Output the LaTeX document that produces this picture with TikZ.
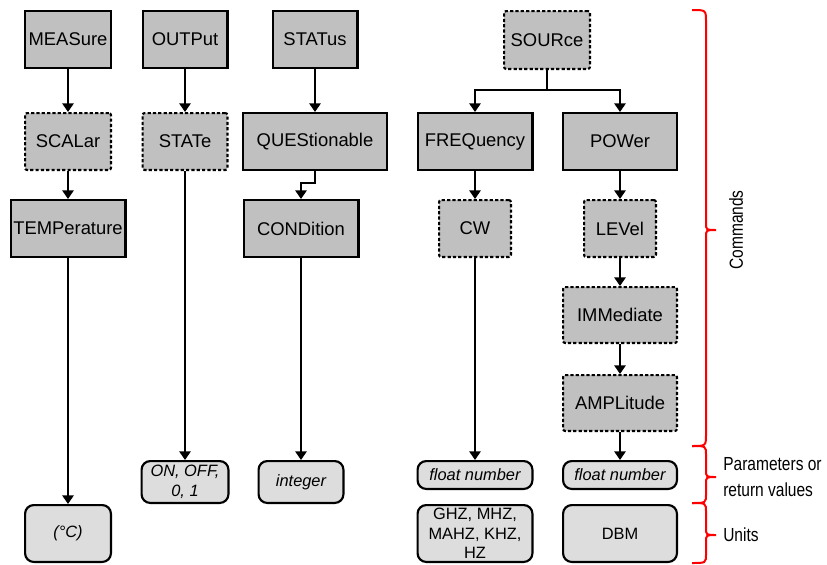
\documentclass[tikz,border=0pt]{standalone}
\usepackage{fontspec}
\setmainfont{Liberation Sans}
\newfontfamily\narrowfont[FakeStretch=0.82]{Liberation Sans}
\usetikzlibrary{arrows.meta}
\definecolor{cmdgray}{HTML}{C0C0C0}
\definecolor{pargray}{HTML}{DDDDDD}
\newcommand\redbrace[4]{%
  \draw[bracestyle] (692,#1) .. controls (706,#1) .. (706,{#1+#4})
    -- (706,{#3-7}) .. controls (706,#3) .. (716,#3)
    .. controls (706,#3) .. (706,{#3+7})
    -- (706,{#2-#4}) .. controls (706,#2) .. (692,#2);}
\begin{document}
\begin{tikzpicture}[x=0.75pt,y=-0.75pt,
  sz/.style 2 args={minimum width={#1*0.75pt-1.6pt}, minimum height={#2*0.75pt-1.6pt}},
  cmd/.style={draw, line width=1.6pt, fill=cmdgray, inner sep=0pt, font=\fontsize{13.8}{16}\selectfont},
  opt/.style={cmd, dash pattern=on 2.4pt off 1.6pt, rounded corners=1.5pt},
  par/.style={draw, line width=1.6pt, fill=pargray, rounded corners=6.5pt, inner sep=0pt, align=center, font=\fontsize{12.3}{15}\selectfont\itshape},
  unit/.style={par, font=\fontsize{12.3}{14.6}\selectfont},
  arr/.style={line width=1.4pt, -{Triangle[length=6.5pt,width=8.5pt]}},
  bracestyle/.style={draw=red, line width=1.5pt},
  lbl/.style={font=\narrowfont\fontsize{14.2}{20}\selectfont, align=left, inner sep=0pt}
]
\useasboundingbox (0,0) rectangle (827,564);
% column 1
\node[cmd, sz={88}{59}] (meas) at (68,39.5) {MEASure};
\node[opt, sz={88}{59}] (scal) at (68,141.5) {SCALar};
\node[cmd, sz={117}{59}] (temp) at (68,228.5) {TEMPerature};
\node[par, sz={88}{59}] (degc) at (68,533.5) {(°C)};
% column 2
\node[cmd, sz={87}{59}] (outp) at (185,39.5) {OUTPut};
\node[opt, sz={87}{59}] (state) at (185,141.5) {STATe};
\node[par, sz={89}{44}] (onoff) at (185,482) {ON, OFF,\\0, 1};
% column 3
\node[cmd, sz={87}{59}] (stat) at (315,39.5) {STATus};
\node[cmd, sz={146}{59}] (ques) at (315,141.5) {QUEStionable};
\node[cmd, sz={117}{59}] (cond) at (301,228.5) {CONDition};
\node[par, sz={87}{44}] (int) at (301,482) {integer};
% source tree
\node[opt, sz={88}{60}] (sour) at (547,40) {SOURce};
\node[cmd, sz={117}{59}] (freq) at (475,141.5) {FREQuency};
\node[cmd, sz={116}{59}] (pow) at (620,141.5) {POWer};
\node[opt, sz={74}{59}] (cw) at (475,228.5) {CW};
\node[opt, sz={74}{59}] (lev) at (620,228.5) {LEVel};
\node[opt, sz={116}{58}] (imm) at (620,315) {IMMediate};
\node[opt, sz={116}{58}] (amp) at (620,403) {AMPLitude};
\node[par, sz={117}{30}] (fl1) at (475,475) {float number};
\node[par, sz={116}{30}] (fl2) at (620,475) {float number};
\node[unit, sz={117}{59}] (u1) at (475,533.5) {GHZ, MHZ,\\MAHZ, KHZ,\\HZ};
\node[unit, sz={116}{59}] (u2) at (620,533.5) {DBM};
% connectors
\draw[arr] (meas) -- (scal);
\draw[arr] (scal) -- (temp);
\draw[arr] (temp) -- (degc);
\draw[arr] (outp) -- (state);
\draw[arr] (state) -- (onoff);
\draw[arr] (stat) -- (ques);
\draw[arr] (ques.south) -- ++(0,12) -| (cond.north);
\draw[arr] (cond) -- (int);
\coordinate (br) at (547,90);
\draw[line width=1.4pt] (sour) -- (br);
\draw[arr] (br) -| (freq.north);
\draw[arr] (br) -| (pow.north);
\draw[arr] (freq) -- (cw);
\draw[arr] (cw) -- (fl1);
\draw[arr] (pow) -- (lev);
\draw[arr] (lev) -- (imm);
\draw[arr] (imm) -- (amp);
\draw[arr] (amp) -- (fl2);
% braces and labels
\redbrace{10}{446}{230}{12}
\redbrace{446}{503}{477}{9}
\redbrace{503}{563}{535}{9}
\node[lbl, rotate=90] (cmdlbl) at (736,230) {Commands};
\node[lbl, anchor=west] (plbl) at (723,477) {Parameters or\\return values};
\node[lbl, anchor=west] (ulbl) at (723,535) {Units};
\end{tikzpicture}
\end{document}
